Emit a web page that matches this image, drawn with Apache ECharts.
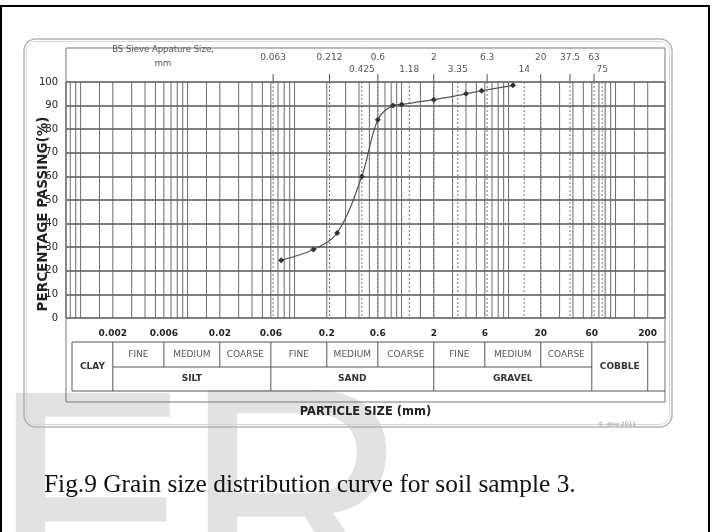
<!DOCTYPE html>
<html>
<head>
<meta charset="utf-8">
<script src="https://cdn.jsdelivr.net/npm/echarts@6/dist/echarts.min.js"></script>
<style>
  html, body { margin: 0; padding: 0; background: #fff; }
  #chart { width: 712px; height: 532px; }
</style>
</head>
<body>
<div id="chart"></div>
<script>
// Sieve analysis, soil sample 3
const sieveSize = [0.075, 0.15, 0.25, 0.425, 0.6, 0.83, 1.0, 2.0, 4.0, 5.6, 11.0];
const percentPassing = [24.5, 29, 36, 60, 84, 90, 90.5, 92.5, 95, 96.3, 98.6];

// BS sieve apertures printed along the top (two staggered rows)
const sieveUpperRow = [0.063, 0.212, 0.6, 2, 6.3, 20, 37.5, 63];
const sieveLowerRow = [0.425, 1.18, 3.35, 14, 75];

// Particle-size boundaries printed under the plot
const sizeBounds = [0.002, 0.006, 0.02, 0.06, 0.2, 0.6, 2, 6, 20, 60, 200];
const subFractions = ['FINE', 'MEDIUM', 'COARSE', 'FINE', 'MEDIUM', 'COARSE', 'FINE', 'MEDIUM', 'COARSE'];
const mainFractions = ['SILT', 'SAND', 'GRAVEL'];
const mainFrom = [0.002, 0.06, 2];
const mainTo = [0.06, 2, 60];

// Log-grid multipliers drawn in each decade, plus a few extra rulings
const gridMultipliers = [1, 2, 3, 4, 5, 6, 7, 8, 9];
const extraGridLines = [0.0015, 0.015, 1.5, 150];

const X_MIN = 0.00073, X_MAX = 290;
const FONT = "'DejaVu Sans', sans-serif";

const chart = echarts.init(document.getElementById('chart'));

chart.setOption({
  backgroundColor: '#fff',
  animation: false,
  grid: { left: 66, top: 82, width: 599, height: 236 },
  xAxis: {
    type: 'log', min: X_MIN, max: X_MAX,
    axisLine: { show: false }, axisTick: { show: false },
    axisLabel: { show: false }, splitLine: { show: false }
  },
  yAxis: {
    type: 'value', min: 0, max: 100, interval: 10,
    axisLine: { show: false }, axisTick: { show: false },
    axisLabel: { color: '#222', fontSize: 10, fontFamily: FONT, margin: 8 },
    splitLine: { lineStyle: { color: '#555', width: 1.5 } }
  },
  series: [{
    type: 'line',
    data: sieveSize.map((s, i) => [s, percentPassing[i]]),
    smooth: 0.35,
    symbol: 'diamond', symbolSize: 6,
    lineStyle: { color: '#555', width: 1.2 },
    itemStyle: { color: '#333' },
    z: 10
  }]
});

const px = v => chart.convertToPixel({ xAxisIndex: 0 }, v);
const py = v => chart.convertToPixel({ yAxisIndex: 0 }, v);
const yTop = py(100), yBot = py(0);
const gLeft = 66, gRight = 665;

const g = [];
const line = (x1, y1, x2, y2, style, z) => g.push({
  type: 'line', shape: { x1, y1, x2, y2 }, style: Object.assign({ stroke: '#555', lineWidth: 1 }, style), z: z || 2, silent: true
});
const text = (x, y, t, style, z) => g.push({
  type: 'text', x, y, style: Object.assign({ text: t, fill: '#333', font: '9px ' + FONT, align: 'center', verticalAlign: 'middle' }, style), z: z || 3, silent: true
});

// Watermark letters (drawn first, behind everything)
const WM_FONT = "315px 'Liberation Sans', sans-serif";
g.push({ type: 'text', x: -10, y: 365, style: { text: 'F', fill: '#e2e2e2', font: WM_FONT, align: 'left', verticalAlign: 'top' }, z: 0, silent: true });
g.push({ type: 'text', x: 182, y: 362, style: { text: 'R', fill: '#e2e2e2', font: WM_FONT, align: 'left', verticalAlign: 'top' }, z: 0, silent: true });

// Figure border
g.push({ type: 'rect', shape: { x: 1, y: 6, width: 708, height: 600 }, style: { fill: null, stroke: '#000', lineWidth: 2 }, z: 1, silent: true });
// Rounded panel
g.push({ type: 'rect', shape: { x: 24, y: 39, width: 648, height: 388, r: 12 }, style: { fill: null, stroke: '#b5b5b5', lineWidth: 1.5 }, z: 1, silent: true });
g.push({ type: 'rect', shape: { x: 26.5, y: 41.5, width: 643, height: 383, r: 10 }, style: { fill: null, stroke: '#d5d5d5', lineWidth: 1 }, z: 1, silent: true });
// Inner frame
g.push({ type: 'rect', shape: { x: 66, y: 48, width: 599, height: 354 }, style: { fill: null, stroke: '#777', lineWidth: 1 }, z: 1, silent: true });

// Vertical log grid
const gridValues = extraGridLines.slice();
for (let d = -4; d <= 2; d++) {
  gridMultipliers.forEach(m => gridValues.push(m * Math.pow(10, d)));
}
gridValues.filter(v => v > X_MIN && v < X_MAX).forEach(v => {
  line(px(v), yTop, px(v), yBot, { stroke: '#6a6a6a', lineWidth: 1 });
});
line(gLeft, yTop, gLeft, yBot, { stroke: '#555' });
line(gRight, yTop, gRight, yBot, { stroke: '#555' });

// Sieve aperture lines (dotted) and labels
sieveUpperRow.concat(sieveLowerRow).forEach(v => {
  line(px(v), yTop, px(v), yBot, { stroke: '#777', lineWidth: 1, lineDash: [2, 2] });
});
sieveUpperRow.forEach(v => {
  line(px(v), yTop - 8, px(v), yTop, { stroke: '#555' });
  text(px(v), 58, String(v), { fill: '#555' });
});
sieveLowerRow.forEach(v => {
  text(px(v), 70, String(v), { fill: '#555' });
});
text(163, 50, 'BS Sieve Appature Size,', { fill: '#555', font: '8.5px ' + FONT });
text(163, 64, 'mm', { fill: '#555', font: '8.5px ' + FONT });

// Particle-size labels under the plot
sizeBounds.forEach(v => text(px(v), 334, String(v), { fill: '#222', font: 'bold 9px ' + FONT }));

// Classification table
const rowA = 342, rowB = 367, rowC = 391, tLeft = 72;
line(tLeft, rowA, gRight, rowA);
line(tLeft, rowC, gRight, rowC);
line(px(sizeBounds[0]), rowB, px(sizeBounds[9]), rowB);
line(tLeft, rowA, tLeft, rowC);
sizeBounds.forEach((v, i) => {
  const full = (i === 0 || i === 3 || i === 6 || i === 9 || i === 10);
  line(px(v), rowA, px(v), full ? rowC : rowB);
});
subFractions.forEach((t, i) => {
  const xc = (px(sizeBounds[i]) + px(sizeBounds[i + 1])) / 2;
  text(xc, (rowA + rowB) / 2, t, { fill: '#555' });
});
mainFractions.forEach((t, i) => {
  text((px(mainFrom[i]) + px(mainTo[i])) / 2, (rowB + rowC) / 2, t, { fill: '#333', font: 'bold 9px ' + FONT });
});
text((tLeft + px(sizeBounds[0])) / 2, (rowA + rowC) / 2, 'CLAY', { fill: '#333', font: 'bold 9px ' + FONT });
text((px(sizeBounds[9]) + px(sizeBounds[10])) / 2, (rowA + rowC) / 2, 'COBBLE', { fill: '#333', font: 'bold 9px ' + FONT });

// Axis titles
text((gLeft + gRight) / 2, 412, 'PARTICLE SIZE (mm)', { fill: '#222', font: 'bold 11.5px ' + FONT });
g.push({ type: 'text', x: 43, y: 214, rotation: Math.PI / 2,
  style: { text: 'PERCENTAGE PASSING(%)', fill: '#222', font: 'bold 13.5px ' + FONT, align: 'center', verticalAlign: 'middle' }, z: 3, silent: true });
text(617, 424, '\u00A9 dino 2011', { fill: '#999', font: '6px ' + FONT });

// Caption
g.push({ type: 'text', x: 44, y: 473, style: { text: 'Fig.9 Grain size distribution curve for soil sample 3.', fill: '#111', font: "25.4px 'Liberation Serif', serif", align: 'left', verticalAlign: 'top' }, z: 3, silent: true });

chart.setOption({ graphic: g });
</script>
</body>
</html>
